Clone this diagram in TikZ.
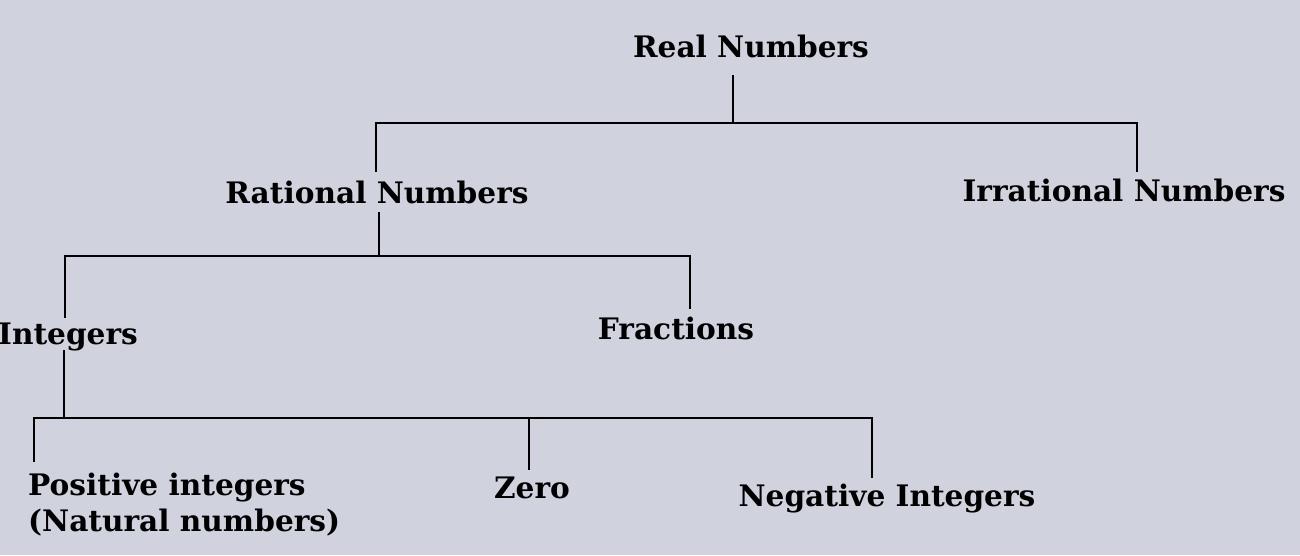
\documentclass[tikz,border=0pt]{standalone}
\usepackage{fontspec}
\setmainfont{DejaVu Serif}
\definecolor{bg}{RGB}{208,210,222}
\begin{document}
\begin{tikzpicture}[x=1pt,y=-1pt,
  lbl/.style={inner sep=0pt,font=\bfseries\fontsize{29.6}{36}\selectfont,text=black},
  conn/.style={line width=2pt,black}]
\fill[bg] (0,0) rectangle (1300,555);
\useasboundingbox (0,0) rectangle (1300,555);
% nodes
\node[lbl,anchor=base] (real) at (751,57) {Real Numbers};
\node[lbl,anchor=base] (rat) at (377,203) {Rational Numbers};
\node[lbl,anchor=base] (irr) at (1124,201) {Irrational Numbers};
\node[lbl,anchor=base] (int) at (68,344) {Integers};
\node[lbl,anchor=base] (frac) at (676,339) {Fractions};
\node[lbl,anchor=base west,align=left] (pos) at (28,531) {Positive integers\\(Natural numbers)};
\node[lbl,anchor=base] (zero) at (532,498) {Zero};
\node[lbl,anchor=base] (neg) at (887,506) {Negative Integers};
% junction coordinates
\coordinate (r0) at (733,75);
\coordinate (r1) at (733,123);
\coordinate (rl) at (376,123);
\coordinate (rr) at (1137,123);
\coordinate (ratTop) at (376,172);
\coordinate (irrTop) at (1137,172);
\coordinate (q0) at (379,212);
\coordinate (q1) at (379,256);
\coordinate (ql) at (65,256);
\coordinate (qr) at (690,256);
\coordinate (intTop) at (65,318);
\coordinate (fracTop) at (690,309);
\coordinate (i0) at (64,350);
\coordinate (i1) at (64,418);
\coordinate (il) at (34,418);
\coordinate (im) at (529,418);
\coordinate (ir) at (872,418);
\coordinate (posTop) at (34,462);
\coordinate (zeroTop) at (529,470);
\coordinate (negTop) at (872,478);
% connectors
\draw[conn] (r0) -- (r1);
\draw[conn] (ratTop) -- (rl) -- (rr) -- (irrTop);
\draw[conn] (q0) -- (q1);
\draw[conn] (intTop) -- (ql) -- (qr) -- (fracTop);
\draw[conn] (i0) -- (i1);
\draw[conn] (posTop) -- (il) -- (ir) -- (negTop);
\draw[conn] (im) -- (zeroTop);
\end{tikzpicture}
\end{document}
